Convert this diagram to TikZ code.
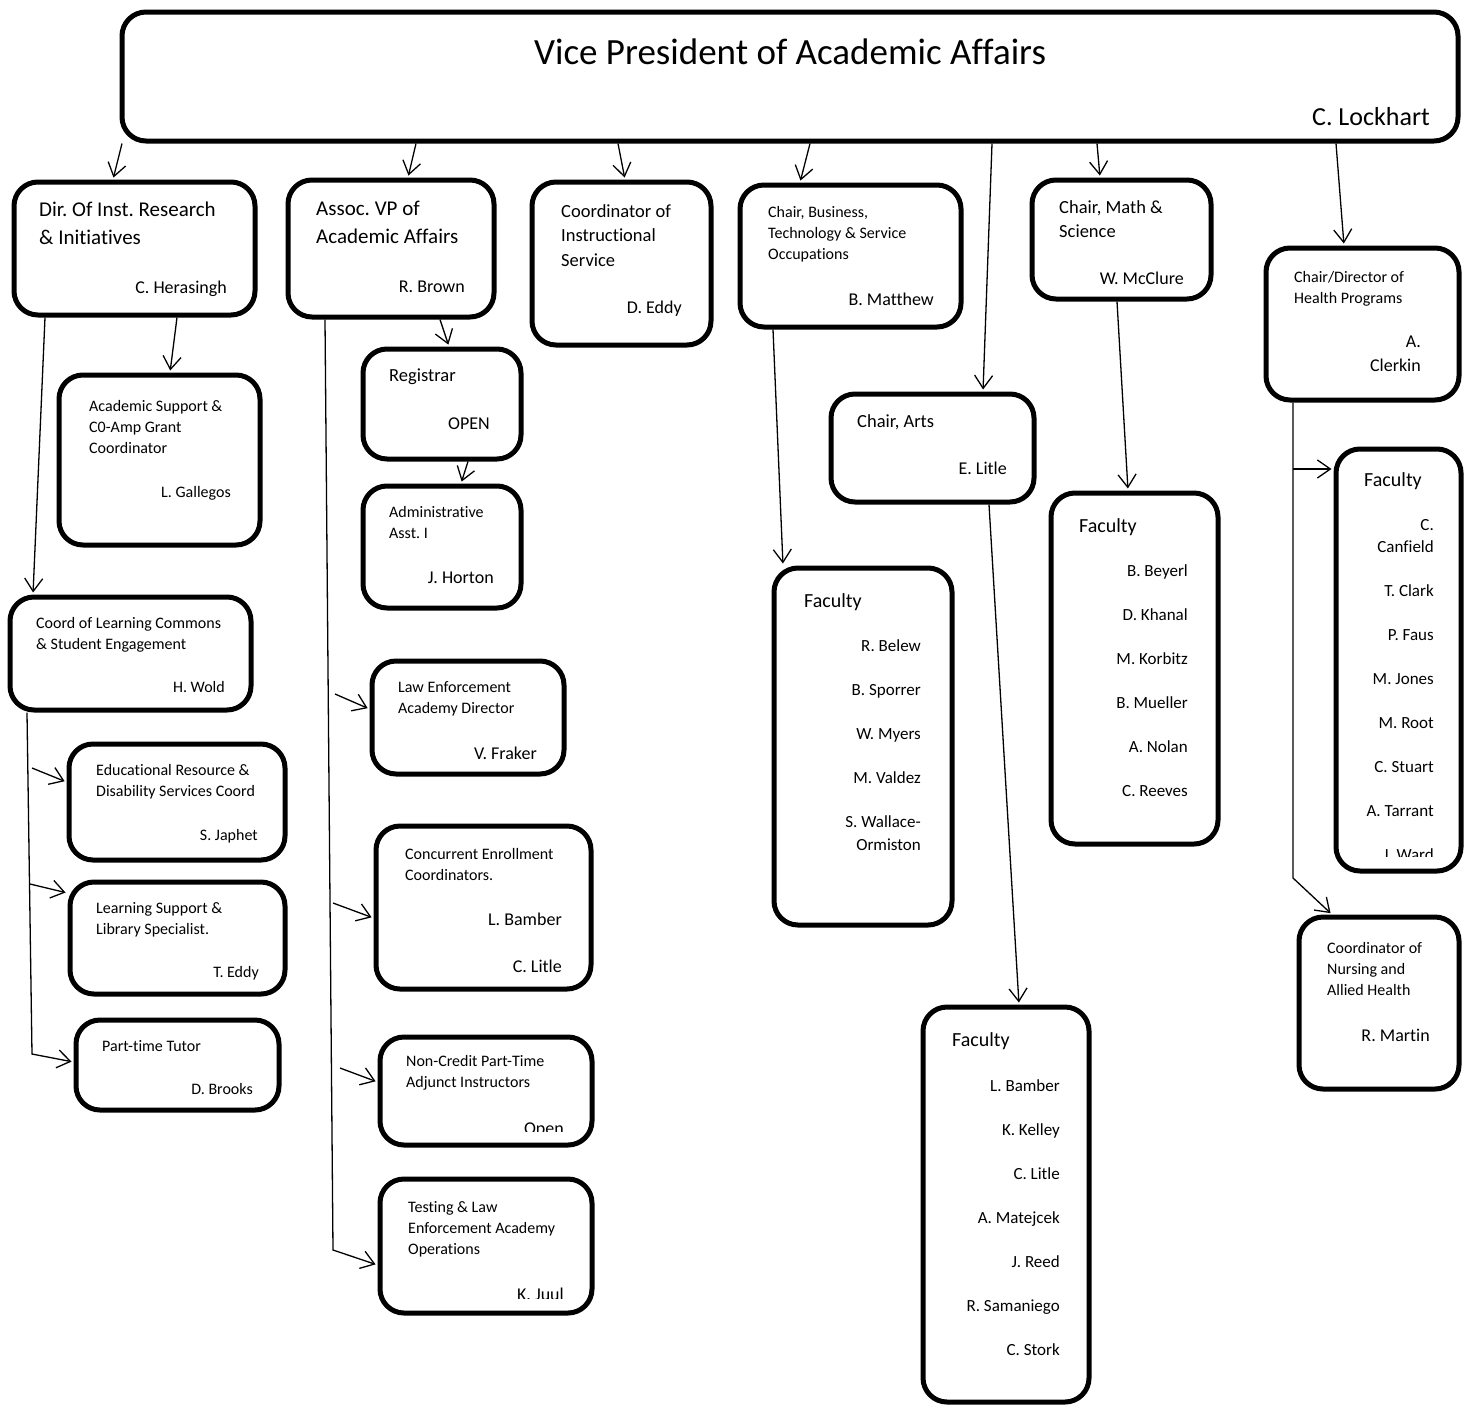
\documentclass[tikz,border=0pt]{standalone}
\usepackage{fontspec}
\setmainfont{Carlito}[Ligatures=CommonOff]
\frenchspacing
\usetikzlibrary{arrows.meta,fit}
\begin{document}
\begin{tikzpicture}[x=1pt,y=-1pt,
	box/.style={draw,line width=5pt,rounded corners=24pt,inner sep=0pt},
	lbl/.style={anchor=north west,align=left,inner sep=0pt,font=\fontsize{21}{28}\selectfont},
	mlbl/.style={lbl,font=\fontsize{18.5}{24.5}\selectfont},
	slbl/.style={lbl,font=\fontsize{16}{21}\selectfont},
	who/.style={anchor=base east,inner sep=0pt,font=\fontsize{18}{24}\selectfont},
	swho/.style={who,font=\fontsize{16}{21}\selectfont},
	fac/.style={anchor=base west,inner sep=0pt,font=\fontsize{20}{24}\selectfont},
	names/.style={anchor=north east,align=right,inner sep=0pt,font=\fontsize{17}{44}\selectfont},
	arr/.style={-{Straight Barb[length=13pt,width=18pt]},line width=1.3pt,shorten >=2pt}]
\useasboundingbox (0,0) rectangle (1471,1408);

\node[box,fit={(122,12) (1458,141)}] (vp) {};
\node[box,fit={(14,182) (255,315)}] (dir) {};
\node[box,fit={(288,180) (494,317)}] (avp) {};
\node[box,fit={(532,182) (711,345)}] (cis) {};
\node[box,fit={(740,185) (961,327)}] (cbt) {};
\node[box,fit={(831,394) (1034,502)}] (arts) {};
\node[box,fit={(1032,180) (1211,299)}] (math) {};
\node[box,fit={(1266,248) (1459,400)}] (health) {};
\node[box,fit={(59,375) (260,545)}] (acs) {};
\node[box,fit={(10,597) (251,710)}] (lc) {};
\node[box,fit={(69,744) (285,860)}] (edr) {};
\node[box,fit={(70,882) (285,994)}] (lsl) {};
\node[box,fit={(76,1020) (279,1110)}] (ptt) {};
\node[box,fit={(363,349) (521,459)}] (reg) {};
\node[box,fit={(363,486) (521,608)}] (adm) {};
\node[box,fit={(372,661) (564,774)}] (lea) {};
\node[box,fit={(376,826) (591,989)}] (cec) {};
\node[box,fit={(380,1037) (592,1145)}] (ncp) {};
\node[box,fit={(380,1179) (592,1313)}] (tle) {};
\node[box,fit={(774,568) (952,925)}] (fbt) {};
\node[box,fit={(923,1007) (1089,1402)}] (fa) {};
\node[box,fit={(1051,493) (1218,844)}] (fm) {};
\node[box,fit={(1336,449) (1461,871)}] (fh) {};
\node[box,fit={(1299,917) (1459,1089)}] (nur) {};

\node[anchor=base,inner sep=0pt,font=\fontsize{37}{44}\selectfont] (vp-t) at (790,64) {Vice President of Academic Affairs};
\node[who,font=\fontsize{26}{30}\selectfont] (vp-n) at (1430,125) {C. Lockhart};
\node[lbl] (dir-t) at (39,202) {Dir. Of Inst. Research\\\& Initiatives};
\node[who] (dir-n) at (227,293) {C. Herasingh};
\node[lbl] (avp-t) at (316,201) {Assoc. VP of\\Academic Affairs};
\node[who] (avp-n) at (465,292) {R. Brown};
\node[mlbl] (cis-t) at (561,204) {Coordinator of\\Instructional\\Service};
\node[who] (cis-n) at (682,313) {D. Eddy};
\node[slbl] (cbt-t) at (768,206) {Chair, Business,\\Technology \& Service\\Occupations};
\node[who] (cbt-n) at (934,305) {B. Matthew};
\node[mlbl] (arts-t) at (857,414) {Chair, Arts};
\node[who] (arts-n) at (1007,474) {E. Litle};
\node[mlbl] (math-t) at (1059,200) {Chair, Math \&\\Science};
\node[who] (math-n) at (1184,284) {W. McClure};
\node[slbl] (health-t) at (1294,271) {Chair/Director of\\Health Programs};
\node[who,anchor=north east,align=right] (health-n) at (1421,336) {A.\\Clerkin};
\node[slbl] (acs-t) at (89,400) {Academic Support \&\\C0-Amp Grant\\Coordinator};
\node[swho] (acs-n) at (231,497) {L. Gallegos};
\node[slbl] (lc-t) at (36,617) {Coord of Learning Commons\\\& Student Engagement};
\node[swho] (lc-n) at (225,692) {H. Wold};
\node[slbl] (edr-t) at (96,764) {Educational Resource \&\\Disability Services Coord};
\node[swho] (edr-n) at (258,840) {S. Japhet};
\node[slbl] (lsl-t) at (96,902) {Learning Support \&\\Library Specialist.};
\node[swho] (lsl-n) at (259,977) {T. Eddy};
\node[slbl] (ptt-t) at (102,1040) {Part-time Tutor};
\node[swho] (ptt-n) at (253,1094) {D. Brooks};
\node[mlbl] (reg-t) at (389,369) {Registrar};
\node[who] (reg-n) at (490,429) {OPEN};
\node[slbl] (adm-t) at (389,506) {Administrative\\Asst. I};
\node[who] (adm-n) at (494,583) {J. Horton};
\node[slbl] (lea-t) at (398,681) {Law Enforcement\\Academy Director};
\node[who] (lea-n) at (537,759) {V. Fraker};
\node[slbl] (cec-t) at (405,848) {Concurrent Enrollment\\Coordinators.};
\node[who] (cec-n1) at (562,925) {L. Bamber};
\node[who] (cec-n2) at (562,972) {C. Litle};
\node[slbl] (ncp-t) at (406,1055) {Non-Credit Part-Time\\Adjunct Instructors};
\begin{scope}
\clip (382,1100) rectangle (590,1131);
\node[who] (ncp-n) at (564,1134) {Open};
\end{scope}
\node[slbl] (tle-t) at (408,1201) {Testing \& Law\\Enforcement Academy\\Operations};
\begin{scope}
\clip (382,1270) rectangle (590,1298);
\node[who] (tle-n) at (564,1300) {K. Juul};
\end{scope}
\node[slbl] (nur-t) at (1327,942) {Coordinator of\\Nursing and\\Allied Health};
\node[who] (nur-n) at (1430,1041) {R. Martin};

\node[fac] (fbt-t) at (804,607) {Faculty};
\node[names] (fbt-n) at (921,639) {R. Belew\\B. Sporrer\\W. Myers\\M. Valdez\\S. Wallace-\\[-21pt]Ormiston};
\node[fac] (fm-t) at (1079,532) {Faculty};
\node[names] (fm-n) at (1188,564) {B. Beyerl\\D. Khanal\\M. Korbitz\\B. Mueller\\A. Nolan\\C. Reeves};
\node[fac] (fa-t) at (952,1046) {Faculty};
\node[names] (fa-n) at (1060,1079) {L. Bamber\\K. Kelley\\C. Litle\\A. Matejcek\\J. Reed\\R. Samaniego\\C. Stork};
\node[fac] (fh-t) at (1364,486) {Faculty};
\begin{scope}
\clip (1340,500) rectangle (1458,856);
\node[names] (fh-n) at (1434,519) {C.\\[-22pt]Canfield\\T. Clark\\P. Faus\\M. Jones\\M. Root\\C. Stuart\\A. Tarrant\\J. Ward};
\end{scope}

\draw[arr] (vp.south -| 122,0) -- (dir.north -| 113,0);
\draw[arr] (vp.south -| 416,0) -- (avp.north -| 408,0);
\draw[arr] (vp.south -| 618,0) -- (cis.north -| 625,0);
\draw[arr] (vp.south -| 810,0) -- (cbt.north -| 800,0);
\draw[arr] (vp.south -| 992,0) -- (arts.north -| 983,0);
\draw[arr] (vp.south -| 1097,0) -- (math.north -| 1100,0);
\draw[arr] (vp.south -| 1336,0) -- (health.north -| 1344,0);
\draw[arr] (dir.south -| 177,0) -- (acs.north -| 170,0);
\draw[arr] (dir.south -| 45,0) -- (lc.north -| 33,0);
\draw[arr] (avp.south -| 440,0) -- (reg.north -| 449,0);
\draw[arr] (reg.south -| 468,0) -- (adm.north -| 461,0);
\draw[arr] (cbt.south -| 773,0) -- (fbt.north -| 783,0);
\draw[arr] (arts.south -| 989,0) -- (fa.north -| 1019,0);
\draw[arr] (math.south -| 1117,0) -- (fm.north -| 1128,0);

\coordinate (lc-end) at (32,1054);
\coordinate (lc-b1) at (32,768);
\coordinate (lc-b2) at (30,884);
\draw[arr] (lc.south -| 27,0) -- (lc-end) -- (ptt.west |- 0,1062);
\draw[arr] (lc-b1) -- (edr.west |- 0,782);
\draw[arr] (lc-b2) -- (lsl.west |- 0,893);

\coordinate (avp-end) at (333,1250);
\coordinate (avp-b1) at (335,694);
\coordinate (avp-b2) at (333,903);
\coordinate (avp-b3) at (340,1068);
\draw[arr] (avp.south -| 325,0) -- (avp-end) -- (tle.west |- 0,1265);
\draw[arr] (avp-b1) -- (lea.west |- 0,709);
\draw[arr] (avp-b2) -- (cec.west |- 0,918);
\draw[arr] (avp-b3) -- (ncp.west |- 0,1082);

\coordinate (health-end) at (1293,878);
\coordinate (health-b1) at (1293,469);
\draw[arr] (health.south -| 1293,0) -- (health-end) -- (nur.north -| 1332,0);
\draw[arr] (health-b1) -- (fh.west |- 0,469);
\end{tikzpicture}
\end{document}
